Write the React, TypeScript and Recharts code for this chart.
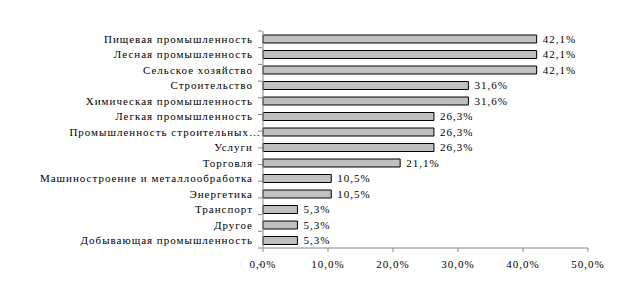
import React from 'react';
import { BarChart, Bar, XAxis, YAxis, LabelList } from 'recharts';

const categories = [
  'Пищевая промышленность',
  'Лесная промышленность',
  'Сельское хозяйство',
  'Строительство',
  'Химическая промышленность',
  'Легкая промышленность',
  'Промышленность строительных…',
  'Услуги',
  'Торговля',
  'Машиностроение и металлообработка',
  'Энергетика',
  'Транспорт',
  'Другое',
  'Добывающая промышленность',
];
const values = [42.1, 42.1, 42.1, 31.6, 31.6, 26.3, 26.3, 26.3, 21.1, 10.5, 10.5, 5.3, 5.3, 5.3];
const xTicks = [0, 10, 20, 30, 40, 50];
const boundaryTicks = [0, 1, 2, 3, 4, 5, 6, 7, 8, 9, 10, 11, 12, 13, 14];

const data = categories.map((name, i) => ({ name, value: values[i] }));

const pct = (v: number) => v.toFixed(1).replace('.', ',') + '%';

const font = '"Liberation Serif", "Times New Roman", serif';

const CategoryTick = (props: any) => {
  const { x, y, payload } = props;
  const label: string = String(payload.value);
  if (label.endsWith('…')) {
    return (
      <text x={x + 7} y={y} dy="0.355em" textAnchor="end" fill="#000" fontSize={11} fontFamily={font} letterSpacing={1}>
        {label.slice(0, -1)}
        <tspan letterSpacing={0}>…</tspan>
      </text>
    );
  }
  return (
    <text x={x} y={y} dy="0.355em" textAnchor="end" fill="#000" fontSize={11} fontFamily={font} letterSpacing={1}>
      {label}
    </text>
  );
};

export default function App() {
  return (
    <div style={{ position: 'absolute', left: 0, top: 0, width: 641, height: 289, background: '#fff' }}>
      <BarChart
        width={641}
        height={289}
        data={data}
        layout="vertical"
        margin={{ top: 31, right: 53, bottom: 11, left: 261 }}
        style={{ fontFamily: font }}
      >
        <XAxis
          type="number"
          domain={[0, 50]}
          ticks={xTicks}
          tickFormatter={pct}
          height={30}
          stroke="#868686"
          tickSize={4}
          tickMargin={8}
          tick={{ fill: '#000', fontSize: 11, fontFamily: font, letterSpacing: 1 }}
          interval={0}
        />
        <YAxis
          type="category"
          dataKey="name"
          width={1}
          stroke="#868686"
          tickLine={false}
          tickSize={0}
          tickMargin={10}
          interval={0}
          tick={<CategoryTick />}
        />
        <YAxis
          yAxisId="b"
          type="number"
          domain={[0, 14]}
          ticks={boundaryTicks}
          width={1}
          axisLine={false}
          stroke="#868686"
          tickSize={4}
          tickFormatter={() => ''}
          interval={0}
        />
        <Bar dataKey="value" fill="#c0c0c0" stroke="#000" strokeWidth={1} barSize={8} isAnimationActive={false}>
          <LabelList
            dataKey="value"
            position="right"
            offset={6}
            formatter={(v: any) => pct(Number(v))}
            style={{ fill: '#000', fontSize: 11, fontFamily: font, letterSpacing: 1 }}
          />
        </Bar>
      </BarChart>
    </div>
  );
}
